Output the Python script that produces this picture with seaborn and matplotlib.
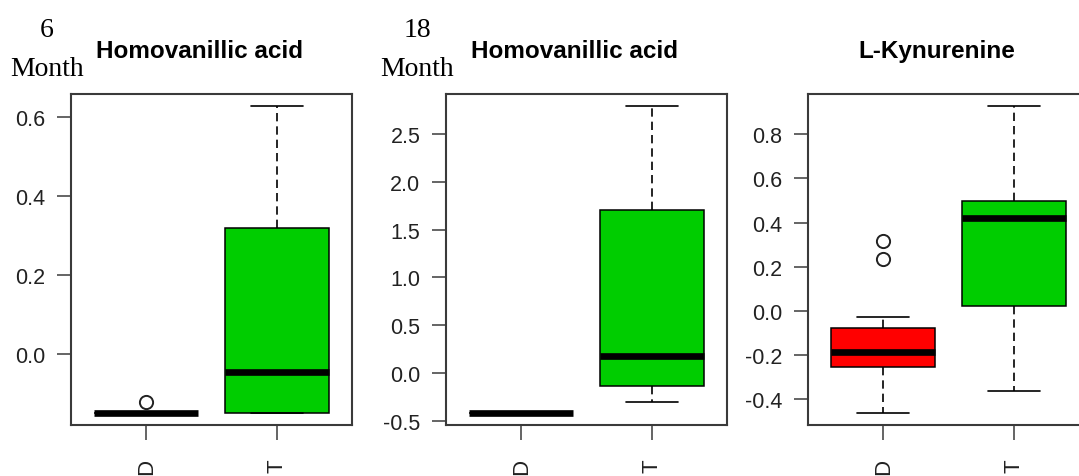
import matplotlib
matplotlib.use("Agg")
import matplotlib.pyplot as plt
from matplotlib import font_manager
from matplotlib.ticker import FormatStrFormatter
import pandas as pd
import seaborn as sns

# ---- data -------------------------------------------------------------
groups = ["D", "T"]
group_colors = {"D": "#FF0000", "T": "#00CD00"}

# per-group observations (whisker ends, quartiles, median and outliers)
hva6_D = [-0.148, -0.148, -0.148, -0.148, -0.122]
hva6_T = [-0.148, -0.148, -0.044, 0.318, 0.626]
hva18_D = [-0.411, -0.411, -0.411, -0.411, -0.411]
hva18_T = [-0.296, -0.133, 0.181, 1.705, 2.786]
kyn_D = [-0.462, -0.255, -0.255, -0.255, -0.186, -0.186, -0.186,
         -0.080, -0.080, -0.080, -0.030, 0.235, 0.315]
kyn_T = [-0.364, 0.020, 0.421, 0.499, 0.927]

panel_titles = ["Homovanillic acid", "Homovanillic acid", "L-Kynurenine"]
panel_times = ["6", "18", None]
yticks_hva6 = [0.0, 0.2, 0.4, 0.6]
yticks_hva18 = [-0.5, 0.0, 0.5, 1.0, 1.5, 2.0, 2.5]
yticks_kyn = [-0.4, -0.2, 0.0, 0.2, 0.4, 0.6, 0.8]

panels = [
    (hva6_D, hva6_T, yticks_hva6),
    (hva18_D, hva18_T, yticks_hva18),
    (kyn_D, kyn_T, yticks_kyn),
]

# ---- style ------------------------------------------------------------
sns.set_theme(style="white")


def installed(name):
    return any(f.name == name for f in font_manager.fontManager.ttflist)


NARROW = "Liberation Sans Narrow"
has_narrow = installed(NARROW)
sans = NARROW if has_narrow else "Liberation Sans"
ytick_size = 17.5 if has_narrow else 15.5
title_size = 21 if has_narrow else 17.5

plt.rcParams["font.family"] = ["Liberation Sans", "DejaVu Sans"]
plt.rcParams["axes.unicode_minus"] = False

W, H = 1079, 477
fig = plt.figure(figsize=(W / 100, H / 100), dpi=100)
fig.patch.set_facecolor("white")

ax_left_px = [71, 446, 808]
ax_w_px = 281
ax_top_px, ax_bot_px = 95, 426
title_x_px = [200, 574.5, 937]
frame_color = "#3a3a3a"

for i, (d_vals, t_vals, yticks) in enumerate(panels):
    ax = fig.add_axes([ax_left_px[i] / W, 1 - ax_bot_px / H,
                       ax_w_px / W, (ax_bot_px - ax_top_px) / H])
    df = pd.DataFrame({
        "group": ["D"] * len(d_vals) + ["T"] * len(t_vals),
        "value": list(d_vals) + list(t_vals),
    })
    sns.boxplot(
        data=df, x="group", y="value", hue="group",
        order=groups, hue_order=groups, palette=group_colors,
        saturation=1, width=0.8, linecolor="black", linewidth=1.1,
        fliersize=9.5, legend=False, ax=ax,
        medianprops={"color": "black", "linewidth": 4.8,
                     "solid_capstyle": "butt"},
        whiskerprops={"color": "black", "linestyle": (0, (5, 3)),
                      "linewidth": 1.2},
        capprops={"color": "black", "linewidth": 1.2},
        flierprops={"marker": "o", "markerfacecolor": "none",
                    "markeredgecolor": "#222222", "markersize": 9.5,
                    "markeredgewidth": 1.4},
    )

    # value range padded by 4 % on each side
    all_vals = list(d_vals) + list(t_vals)
    lo, hi = min(all_vals), max(all_vals)
    pad = 0.04 * (hi - lo)
    ax.set_ylim(lo - pad, hi + pad)
    ax.set_xlim(-0.58, 1.58)

    ax.set_yticks(yticks)
    ax.yaxis.set_major_formatter(FormatStrFormatter("%.1f"))
    ax.set_xlabel("")
    ax.set_ylabel("")
    ax.grid(False)

    for sp in ax.spines.values():
        sp.set_visible(True)
        sp.set_color(frame_color)
        sp.set_linewidth(1.5)

    ax.tick_params(axis="y", left=True, direction="out", length=10,
                   width=1.1, color=frame_color, pad=8.5,
                   labelsize=ytick_size, labelcolor="#222222")
    ax.tick_params(axis="x", bottom=True, direction="out", length=11,
                   width=1.1, color=frame_color, pad=13,
                   labelsize=16, labelcolor="#222222", labelrotation=90)
    for lab in ax.get_yticklabels():
        lab.set_fontfamily([sans, "DejaVu Sans"])

    fig.text(title_x_px[i] / W, 1 - 58 / H, panel_titles[i],
             ha="center", va="baseline", fontsize=title_size,
             fontweight="bold", family=[sans, "DejaVu Sans"], color="black")

    if panel_times[i] is not None:
        cx = (47 if i == 0 else 417) / W
        fig.text(cx, 1 - 37 / H, panel_times[i], ha="center", va="baseline",
                 fontsize=20, family=["Liberation Serif", "DejaVu Serif"],
                 color="black")
        fig.text(cx, 1 - 76 / H, "Month", ha="center", va="baseline",
                 fontsize=20, family=["Liberation Serif", "DejaVu Serif"],
                 color="black")

fig.savefig("out.png", dpi=100, facecolor="white")
